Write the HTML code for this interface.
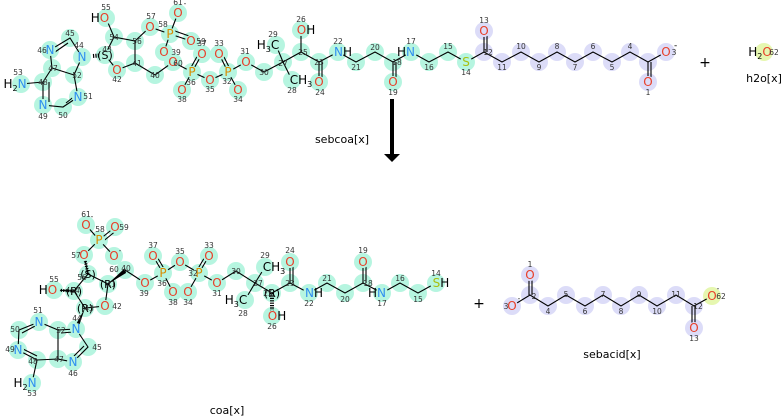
<!DOCTYPE html>
<html><head><meta charset="utf-8"><style>
html,body{margin:0;padding:0;background:#fff;}
svg{display:block;font-family:"DejaVu Sans","Liberation Sans",sans-serif;}
.hl{fill:#b6f5e0}.lv{fill:#dcdcf8}.yl{fill:#e6f7b0}
.b{stroke:#000;stroke-width:1.1;fill:none}
.a{font-size:12px;text-anchor:middle}
.O{fill:#e8402a}.N{fill:#2f8ff0}.P{fill:#d98c00}.S{fill:#a8c010}.K{fill:#000}
.n{font-size:7.5px;fill:#333;text-anchor:middle}
.t{font-size:12px;fill:#000;text-anchor:middle}
</style></head><body>
<svg width="781" height="416" viewBox="0 0 781 416" xmlns="http://www.w3.org/2000/svg">
<!-- TOP highlights -->
<g class="hl">
<circle cx="106" cy="18" r="9"/><circle cx="114" cy="37" r="9"/><circle cx="135" cy="41" r="9"/><circle cx="150" cy="27" r="9"/><circle cx="170" cy="34" r="9"/><circle cx="178" cy="13" r="9"/><circle cx="191" cy="41" r="9"/><circle cx="164" cy="52" r="9"/><circle cx="105" cy="55" r="9"/><circle cx="135" cy="63" r="9"/><circle cx="117" cy="70" r="9"/><circle cx="155" cy="75" r="9"/><circle cx="173" cy="62" r="9"/><circle cx="192" cy="72" r="9"/><circle cx="202" cy="54" r="9"/><circle cx="182" cy="90" r="9"/><circle cx="210" cy="80" r="9"/><circle cx="228" cy="72" r="9"/><circle cx="219" cy="54" r="9"/><circle cx="238" cy="90" r="9"/><circle cx="246" cy="62" r="9"/><circle cx="264" cy="72" r="9"/><circle cx="283" cy="62" r="9"/><circle cx="276" cy="45" r="9"/><circle cx="292" cy="80" r="9"/><circle cx="301" cy="52" r="9"/><circle cx="301" cy="30" r="9"/><circle cx="319" cy="62" r="9"/><circle cx="319" cy="82" r="9"/><circle cx="338" cy="52" r="9"/><circle cx="356" cy="62" r="9"/><circle cx="375" cy="52" r="9"/><circle cx="393" cy="62" r="9"/><circle cx="393" cy="82" r="9"/><circle cx="411" cy="52" r="9"/><circle cx="429" cy="62" r="9"/><circle cx="448" cy="52" r="9"/><circle cx="466" cy="62" r="9"/>
<circle cx="82" cy="57" r="9"/><circle cx="70" cy="38" r="9"/><circle cx="50" cy="50" r="9"/><circle cx="52" cy="68" r="9"/><circle cx="74" cy="75" r="9"/><circle cx="78" cy="97" r="9"/><circle cx="63" cy="107" r="9"/><circle cx="43" cy="105" r="9"/><circle cx="43" cy="82" r="9"/><circle cx="21" cy="84" r="9"/>
</g>
<g class="lv">
<circle cx="484" cy="52" r="9"/><circle cx="484" cy="31" r="9"/><circle cx="502" cy="62" r="9"/><circle cx="521" cy="52" r="9"/><circle cx="539" cy="62" r="9"/><circle cx="557" cy="52" r="9"/><circle cx="575" cy="62" r="9"/><circle cx="593" cy="52" r="9"/><circle cx="612" cy="62" r="9"/><circle cx="630" cy="52" r="9"/><circle cx="648" cy="62" r="9"/><circle cx="666" cy="52" r="9"/><circle cx="648" cy="82" r="9"/>
</g>
<circle class="yl" cx="764" cy="52" r="9"/>
<!-- TOP bonds -->
<g class="b">
<path d="M106 18L114 37L135 41L150 27L170 34L178 13M170 34L164 52M114 37L105 55M135 41L135 63M105 55L117 70L135 63L155 75L173 62L192 72L210 80L228 72L246 62L264 72L283 62L276 45M283 62L292 80M283 62L301 52L301 30M301 52L319 62L338 52L356 62L375 52L393 62L411 52L429 62L448 52L466 62L484 52L502 62L521 52L539 62L557 52L575 62L593 52L612 62L630 52L648 62L666 52M192 72L182 90M228 72L238 90"/>
<path d="M170 34L191 41M172 30L192 37M192 72L202 54M189 71L199 53M228 72L219 54M231 71L222 53M319 62L319 82M322 62L322 82M393 62L393 82M396 62L396 82M484 52L484 31M487 52L487 31M648 62L648 82M651 62L651 82"/>
<path d="M82 57L70 38L50 50L52 68L74 75L82 57M52 68L43 82L43 105L63 107L78 97L74 75M43 82L21 84M55 52L68 43M49 82L49 102M66 103L76 95"/>
<path d="M93 56L105 55" stroke-dasharray="1.2 1.2" stroke-width="4"/>
</g>
<!-- label backdrops top -->
<g class="hl">
<circle cx="106" cy="18" r="6"/><circle cx="150" cy="27" r="6"/><circle cx="170" cy="34" r="6"/><circle cx="178" cy="13" r="6"/><circle cx="191" cy="41" r="6"/><circle cx="164" cy="52" r="6"/><circle cx="117" cy="70" r="6"/><circle cx="173" cy="62" r="6"/><circle cx="192" cy="72" r="6"/><circle cx="202" cy="54" r="6"/><circle cx="182" cy="90" r="6"/><circle cx="210" cy="80" r="6"/><circle cx="228" cy="72" r="6"/><circle cx="219" cy="54" r="6"/><circle cx="238" cy="90" r="6"/><circle cx="246" cy="62" r="6"/><circle cx="301" cy="30" r="6"/><circle cx="319" cy="82" r="6"/><circle cx="338" cy="52" r="6"/><circle cx="393" cy="82" r="6"/><circle cx="411" cy="52" r="6"/><circle cx="466" cy="62" r="6"/><circle cx="82" cy="57" r="6"/><circle cx="50" cy="50" r="6"/><circle cx="78" cy="97" r="6"/><circle cx="43" cy="105" r="6"/><circle cx="21" cy="84" r="6"/><circle cx="276" cy="45" r="6"/><circle cx="292" cy="80" r="6"/><circle cx="105" cy="55" r="6"/>
</g>
<g class="lv"><circle cx="484" cy="31" r="6"/><circle cx="666" cy="52" r="6"/><circle cx="648" cy="82" r="6"/></g>
<!-- TOP labels -->
<g class="a">
<text x="100" y="22"><tspan class="K">H</tspan><tspan class="O">O</tspan></text>
<text class="O" x="150" y="31">O</text><text class="P" x="170" y="38">P</text><text class="O" x="178" y="17">O</text><text class="O" x="191" y="45">O</text><text class="O" x="164" y="56">O</text>
<text class="K" x="105" y="59" style="font-size:11px">(S)</text>
<text class="O" x="117" y="74">O</text><text class="O" x="173" y="66">O</text><text class="P" x="192" y="76">P</text><text class="O" x="202" y="58">O</text><text class="O" x="182" y="94">O</text><text class="O" x="210" y="84">O</text><text class="P" x="228" y="76">P</text><text class="O" x="219" y="58">O</text><text class="O" x="238" y="94">O</text><text class="O" x="246" y="66">O</text>
<text class="K" x="268" y="49">H<tspan font-size="8" dy="3">3</tspan><tspan dy="-3">C</tspan></text>
<text class="K" x="301" y="84">CH<tspan font-size="8" dy="3">3</tspan></text>
<text x="306" y="34"><tspan class="O">O</tspan><tspan class="K">H</tspan></text>
<text class="O" x="319" y="86">O</text>
<text x="343" y="56"><tspan class="N">N</tspan><tspan class="K">H</tspan></text>
<text class="O" x="393" y="86">O</text>
<text x="406" y="56"><tspan class="K">H</tspan><tspan class="N">N</tspan></text>
<text class="S" x="466" y="66">S</text>
<text class="O" x="484" y="35">O</text><text class="O" x="666" y="56">O</text><text class="O" x="648" y="86">O</text>
<text class="N" x="82" y="61">N</text><text class="N" x="50" y="54">N</text><text class="N" x="78" y="101">N</text><text class="N" x="43" y="109">N</text>
<text x="15" y="88"><tspan class="K">H</tspan><tspan class="K" font-size="8" dy="3">2</tspan><tspan class="N" dy="-3">N</tspan></text>
<text class="K" x="760" y="56">H<tspan font-size="8" dy="3">2</tspan><tspan class="O" dy="-3">O</tspan></text>
</g>
<g class="n">
<text x="106" y="10">55</text><text x="114" y="40">54</text><text x="137" y="44">56</text><text x="151" y="19">57</text><text x="163" y="27">58</text><text x="178" y="5">61</text><text x="185" y="6">-</text><text x="201" y="44">59</text><text x="176" y="55">39</text><text x="178" y="66">60</text><text x="107" y="52">43</text><text x="137" y="66">41</text><text x="117" y="82">42</text><text x="155" y="78">40</text><text x="191" y="85">36</text><text x="202" y="46">37</text><text x="182" y="102">38</text><text x="210" y="92">35</text><text x="227" y="84">32</text><text x="219" y="46">33</text><text x="238" y="102">34</text><text x="245" y="54">31</text><text x="264" y="75">30</text><text x="283" y="66">27</text><text x="273" y="37">29</text><text x="292" y="93">28</text><text x="303" y="55">25</text><text x="301" y="22">26</text><text x="319" y="65">23</text><text x="320" y="95">24</text><text x="338" y="44">22</text><text x="356" y="70">21</text><text x="375" y="50">20</text><text x="397" y="65">18</text><text x="393" y="95">19</text><text x="411" y="44">17</text><text x="429" y="70">16</text><text x="448" y="49">15</text><text x="466" y="75">14</text><text x="488" y="55">12</text><text x="484" y="23">13</text><text x="502" y="70">11</text><text x="521" y="49">10</text><text x="539" y="70">9</text><text x="557" y="49">8</text><text x="575" y="70">7</text><text x="593" y="49">6</text><text x="612" y="70">5</text><text x="630" y="49">4</text><text x="674" y="55">3</text><text x="648" y="95">1</text><text x="774" y="55">62</text>
<text x="70" y="36">45</text><text x="42" y="53">46</text><text x="79" y="48">44</text><text x="53" y="71">47</text><text x="77" y="78">52</text><text x="88" y="99">51</text><text x="63" y="118">50</text><text x="43" y="119">49</text><text x="43" y="85">48</text><text x="18" y="75">53</text>
</g>
<text x="700" y="10" style="font-size:9px">&#160;</text>
<text x="674" y="48" style="font-size:9px">-</text>
<text x="705" y="67" class="t" style="font-size:14px">+</text>
<text x="764" y="82" class="t" style="font-size:11px">h2o[x]</text>
<!-- arrow -->
<rect x="390" y="99" width="4" height="56" fill="#000"/>
<path d="M384 154L400 154L392 162Z" fill="#000"/>
<text x="342" y="143" class="t" style="font-size:11px">sebcoa[x]</text>

<!-- BOTTOM coa -->
<g class="hl">
<circle cx="86" cy="225" r="9"/><circle cx="115" cy="227" r="9"/><circle cx="99" cy="240" r="9"/><circle cx="114" cy="256" r="9"/><circle cx="84" cy="255" r="9"/><circle cx="88" cy="274" r="9"/><circle cx="108" cy="284" r="9"/><circle cx="125" cy="270" r="9"/><circle cx="145" cy="283" r="9"/><circle cx="163" cy="273" r="9"/><circle cx="153" cy="256" r="9"/><circle cx="173" cy="292" r="9"/><circle cx="180" cy="262" r="9"/><circle cx="199" cy="273" r="9"/><circle cx="209" cy="256" r="9"/><circle cx="188" cy="292" r="9"/><circle cx="217" cy="283" r="9"/><circle cx="236" cy="271" r="9"/><circle cx="255" cy="283" r="9"/><circle cx="265" cy="267" r="9"/><circle cx="245" cy="300" r="9"/><circle cx="272" cy="293" r="9"/><circle cx="272" cy="316" r="9"/><circle cx="290" cy="283" r="9"/><circle cx="290" cy="262" r="9"/><circle cx="309" cy="293" r="9"/><circle cx="327" cy="283" r="9"/><circle cx="345" cy="293" r="9"/><circle cx="363" cy="283" r="9"/><circle cx="363" cy="262" r="9"/><circle cx="382" cy="293" r="9"/><circle cx="400" cy="283" r="9"/><circle cx="418" cy="293" r="9"/><circle cx="436" cy="283" r="9"/><circle cx="74" cy="291" r="9"/><circle cx="54" cy="290" r="9"/><circle cx="85" cy="308" r="9"/><circle cx="105" cy="306" r="9"/>
<circle cx="76" cy="329" r="9"/><circle cx="88" cy="347" r="9"/><circle cx="73" cy="362" r="9"/><circle cx="58" cy="359" r="9"/><circle cx="58" cy="330" r="9"/><circle cx="39" cy="322" r="9"/><circle cx="19" cy="330" r="9"/><circle cx="18" cy="350" r="9"/><circle cx="37" cy="360" r="9"/><circle cx="32" cy="383" r="9"/>
</g>
<g class="b">
<path d="M86 225L99 240L114 256M99 240L84 255L88 274L108 284L125 270L145 283L163 273L180 262L199 273L217 283L236 271L255 283L265 267M255 283L245 300M255 283L272 293L290 283L309 293L327 283L345 293L363 283L382 293L400 283L418 293L436 283M88 274L74 291L54 290M74 291L85 308L105 306L108 284M163 273L173 292M199 273L188 292"/>
<path d="M99 240L115 227M101 243L117 230M163 273L153 256M166 272L156 255M199 273L209 256M196 272L206 255M290 283L290 262M293 283L293 262M363 283L363 262M366 283L366 262"/>
<path d="M76 329L88 347L73 362L58 359L58 330L76 329M58 330L39 322L19 330L18 350L37 360L58 359M37 360L32 383M61 333L73 332M22 333L37 325M21 348L37 356M74 356L84 346"/>
<path d="M272 293L272 316" stroke-dasharray="1.2 1.2" stroke-width="4"/>
<path d="M74 291L54 290" stroke-dasharray="1.2 1.2" stroke-width="3"/>
<path d="M88 274L84 255" stroke-dasharray="1.2 1.2" stroke-width="3"/>
</g>
<path d="M108 284L125 268L126 273Z" fill="#000"/>
<path d="M85 308L74 328L78 329Z" fill="#000"/>
<g class="hl">
<circle cx="86" cy="225" r="6"/><circle cx="115" cy="227" r="6"/><circle cx="99" cy="240" r="6"/><circle cx="114" cy="256" r="6"/><circle cx="84" cy="255" r="6"/><circle cx="145" cy="283" r="6"/><circle cx="163" cy="273" r="6"/><circle cx="153" cy="256" r="6"/><circle cx="173" cy="292" r="6"/><circle cx="180" cy="262" r="6"/><circle cx="199" cy="273" r="6"/><circle cx="209" cy="256" r="6"/><circle cx="188" cy="292" r="6"/><circle cx="217" cy="283" r="6"/><circle cx="272" cy="316" r="6"/><circle cx="290" cy="262" r="6"/><circle cx="309" cy="293" r="6"/><circle cx="363" cy="262" r="6"/><circle cx="382" cy="293" r="6"/><circle cx="436" cy="283" r="6"/><circle cx="54" cy="290" r="6"/><circle cx="105" cy="306" r="6"/><circle cx="76" cy="329" r="6"/><circle cx="73" cy="362" r="6"/><circle cx="39" cy="322" r="6"/><circle cx="18" cy="350" r="6"/><circle cx="32" cy="383" r="6"/><circle cx="265" cy="267" r="6"/><circle cx="245" cy="300" r="6"/>
</g>
<g class="a">
<text class="O" x="86" y="229">O</text><text class="O" x="115" y="231">O</text><text class="P" x="99" y="244">P</text><text class="O" x="114" y="260">O</text><text class="O" x="84" y="259">O</text>
<text class="K" x="88" y="278" style="font-size:11px">(S)</text><text class="K" x="108" y="288" style="font-size:11px">(R)</text><text class="K" x="74" y="295" style="font-size:11px">(R)</text><text class="K" x="85" y="312" style="font-size:11px">(R)</text><text class="K" x="272" y="297" style="font-size:11px">(R)</text>
<text class="O" x="145" y="287">O</text><text class="P" x="163" y="277">P</text><text class="O" x="153" y="260">O</text><text class="O" x="173" y="296">O</text><text class="O" x="180" y="266">O</text><text class="P" x="199" y="277">P</text><text class="O" x="209" y="260">O</text><text class="O" x="188" y="296">O</text><text class="O" x="217" y="287">O</text>
<text class="K" x="274" y="271">CH<tspan font-size="8" dy="3">3</tspan></text>
<text class="K" x="236" y="304">H<tspan font-size="8" dy="3">3</tspan><tspan dy="-3">C</tspan></text>
<text x="277" y="320"><tspan class="O">O</tspan><tspan class="K">H</tspan></text>
<text class="O" x="290" y="266">O</text>
<text x="314" y="297"><tspan class="N">N</tspan><tspan class="K">H</tspan></text>
<text class="O" x="363" y="266">O</text>
<text x="377" y="297"><tspan class="K">H</tspan><tspan class="N">N</tspan></text>
<text x="441" y="287"><tspan class="S">S</tspan><tspan class="K">H</tspan></text>
<text x="48" y="294"><tspan class="K">H</tspan><tspan class="O">O</tspan></text>
<text class="O" x="105" y="310">O</text>
<text class="N" x="76" y="333">N</text><text class="N" x="73" y="366">N</text><text class="N" x="39" y="326">N</text><text class="N" x="18" y="354">N</text>
<text x="25" y="387"><tspan class="K">H</tspan><tspan class="K" font-size="8" dy="3">2</tspan><tspan class="N" dy="-3">N</tspan></text>
</g>
<g class="n">
<text x="86" y="217">61</text><text x="92" y="219">-</text><text x="124" y="230">59</text><text x="100" y="232">58</text><text x="114" y="272">60</text><text x="120" y="253">-</text><text x="76" y="258">57</text><text x="82" y="280">56</text><text x="111" y="287">41</text><text x="126" y="271">40</text><text x="144" y="296">39</text><text x="162" y="286">36</text><text x="153" y="248">37</text><text x="173" y="305">38</text><text x="180" y="254">35</text><text x="193" y="276">32</text><text x="209" y="248">33</text><text x="188" y="305">34</text><text x="217" y="296">31</text><text x="236" y="274">30</text><text x="258" y="286">27</text><text x="265" y="258">29</text><text x="243" y="316">28</text><text x="268" y="296">25</text><text x="272" y="329">26</text><text x="290" y="286">23</text><text x="290" y="253">24</text><text x="309" y="306">22</text><text x="327" y="281">21</text><text x="345" y="302">20</text><text x="368" y="286">18</text><text x="363" y="253">19</text><text x="382" y="306">17</text><text x="400" y="281">16</text><text x="418" y="302">15</text><text x="436" y="276">14</text><text x="54" y="282">55</text><text x="75" y="293">54</text><text x="89" y="311">43</text><text x="117" y="309">42</text>
<text x="77" y="321">44</text><text x="97" y="350">45</text><text x="73" y="376">46</text><text x="59" y="362">47</text><text x="61" y="333">52</text><text x="38" y="313">51</text><text x="15" y="332">50</text><text x="10" y="352">49</text><text x="33" y="364">48</text><text x="32" y="396">53</text>
</g>
<text x="227" y="414" class="t" style="font-size:11px">coa[x]</text>
<text x="479" y="308" class="t" style="font-size:14px">+</text>

<!-- sebacid -->
<g class="lv">
<circle cx="530" cy="275" r="9"/><circle cx="530" cy="295" r="9"/><circle cx="512" cy="306" r="9"/><circle cx="548" cy="306" r="9"/><circle cx="566" cy="295" r="9"/><circle cx="585" cy="306" r="9"/><circle cx="603" cy="295" r="9"/><circle cx="621" cy="306" r="9"/><circle cx="639" cy="295" r="9"/><circle cx="657" cy="306" r="9"/><circle cx="676" cy="295" r="9"/><circle cx="694" cy="306" r="9"/><circle cx="694" cy="328" r="9"/>
</g>
<circle class="yl" cx="712" cy="296" r="9"/>
<g class="b">
<path d="M512 306L530 295L548 306L566 295L585 306L603 295L621 306L639 295L657 306L676 295L694 306L712 296M529 295L529 275M532 295L532 275M692 306L692 328M695 306L695 328"/>
</g>
<g class="lv"><circle cx="530" cy="275" r="6"/><circle cx="512" cy="306" r="6"/><circle cx="694" cy="328" r="6"/></g>
<circle class="yl" cx="712" cy="296" r="6"/>
<g class="a">
<text class="O" x="530" y="279">O</text><text class="O" x="512" y="310">O</text><text class="O" x="712" y="300">O</text><text class="O" x="694" y="332">O</text>
</g>
<g class="n">
<text x="530" y="267">1</text><text x="534" y="299">2</text><text x="506" y="309">3</text><text x="519" y="301">-</text><text x="548" y="314">4</text><text x="566" y="297">5</text><text x="585" y="314">6</text><text x="603" y="297">7</text><text x="621" y="314">8</text><text x="639" y="297">9</text><text x="657" y="314">10</text><text x="676" y="297">11</text><text x="698" y="309">12</text><text x="721" y="299">62</text><text x="718" y="291">-</text><text x="694" y="341">13</text>
</g>
<text x="612" y="358" class="t" style="font-size:11px">sebacid[x]</text>
</svg>
</body></html>
